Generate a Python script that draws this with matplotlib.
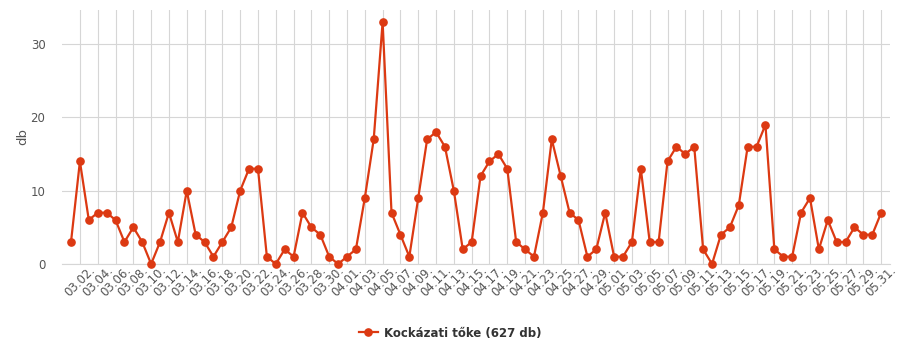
import matplotlib
matplotlib.use('Agg')
import matplotlib.pyplot as plt

# daily counts, 03.01. - 05.31.
march = [3, 14, 6, 7, 7, 6, 3, 5, 3, 0,
         3, 7, 3, 10, 4, 3, 1, 3, 5, 10,
         13, 13, 1, 0, 2, 1, 7, 5, 4, 1, 0]
april = [1, 2, 9, 17, 33, 7, 4, 1, 9, 17,
         18, 16, 10, 2, 3, 12, 14, 15, 13, 3,
         2, 1, 7, 17, 12, 7, 6, 1, 2, 7]
may = [1, 1, 3, 13, 3, 3, 14, 16, 15, 16,
       2, 0, 4, 5, 8, 16, 16, 19, 2, 1,
       1, 7, 9, 2, 6, 3, 3, 5, 4, 4, 7]

dates = ([f'03.{d:02d}.' for d in range(1, 32)] +
         [f'04.{d:02d}.' for d in range(1, 31)] +
         [f'05.{d:02d}.' for d in range(1, 32)])
values = march + april + may
series_name = 'Kockázati tőke (627 db)'

fig = plt.figure(figsize=(9, 3.6), dpi=100)
ax = fig.add_axes([0.069, 0.2667, 0.92, 0.7055])

x = list(range(len(values)))
ax.plot(x, values, color='#dc3912', lw=1.6, marker='o', ms=5.2,
        label=series_name, zorder=3, clip_on=False)

tick_idx = x[1::2]
ax.set_xticks(tick_idx)
ax.set_xticklabels([dates[i] for i in tick_idx], rotation=45, ha='center',
                   fontsize=8.5, color='#555555')
ax.set_xlim(-1, 92)
ax.set_ylim(0, 34.65)
ax.set_yticks([0, 10, 20, 30])
ax.tick_params(axis='y', labelsize=8.5, labelcolor='#555555', length=0, pad=12)
ax.tick_params(axis='x', length=0, pad=0)

ax.grid(True, color='#d6d6d6', lw=0.8)
ax.set_axisbelow(True)
for s in ['top', 'right', 'left']:
    ax.spines[s].set_visible(False)
ax.spines['bottom'].set_color('#d6d6d6')

ax.set_ylabel('db', fontsize=9.5, color='#555555', labelpad=1)

leg = fig.legend(loc='center', bbox_to_anchor=(0.5, 0.075), frameon=False,
                 prop={'weight': 'bold', 'size': 8.5}, handlelength=1.6,
                 handletextpad=0.5)
for t in leg.get_texts():
    t.set_color('#333333')

fig.savefig('out.png', dpi=100)
